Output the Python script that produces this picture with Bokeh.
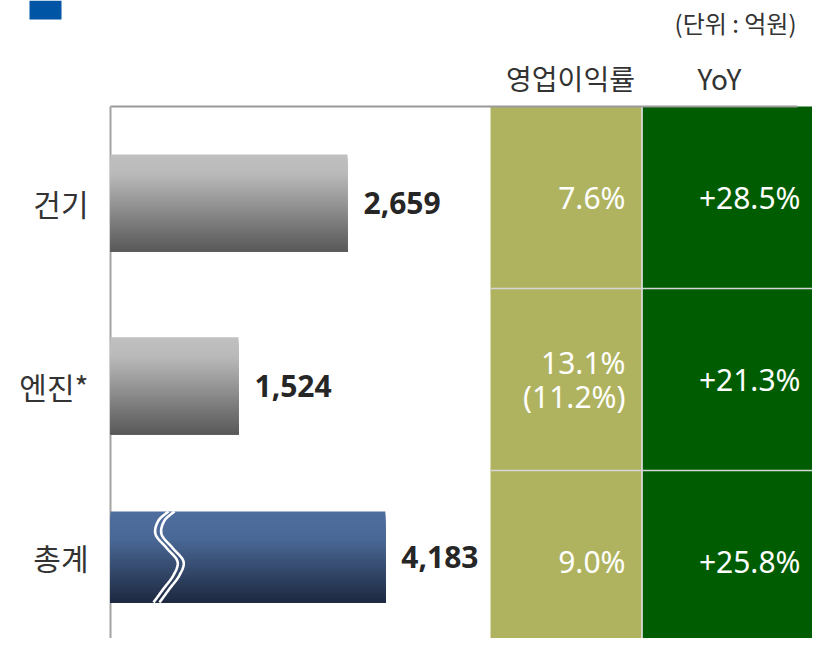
import numpy as np
from bokeh.plotting import figure
from bokeh.models import Range1d
from bokeh.core.properties import value
from bokeh.embed import file_html
from bokeh.resources import INLINE

# ---------------- data ----------------
categories = ["건기", "엔진*", "총계"]
sales = [2659, 1524, 4183]            # 억원
op_margin = [7.6, 13.1, 9.0]          # 영업이익률 %
op_margin_adj = [None, 11.2, None]    # (괄호) 값
yoy = [28.5, 21.3, 25.8]              # YoY %
col_headers = ["영업이익률", "YoY"]
unit_label = "(단위 : 억원)"

# ---------------- layout / style ----------------
W, H = 812, 638
axis_px = 110                 # x of the bar baseline
row_top = 106                 # y of the table top
row_h = 182                   # row height in px
px_per_val = 0.09604          # bar scale
base_val = 191.3              # truncated axis baseline
break_gap = 1130              # value removed by the axis break on the total bar
bar_dy = [0.03, 0.035, -0.025]   # bar offset within its row (row units)
bar_hs = [0.533, 0.533, 0.50]    # bar thickness (row units)

KR = value("Noto Sans CJK KR")
NUM = value("Noto Sans")

x_start = base_val + (0 - axis_px) / px_per_val
x_end = base_val + (W - axis_px) / px_per_val
y_start = (H - row_top) / row_h - 0.5
y_end = (0 - row_top) / row_h - 0.5

p = figure(width=W, height=H, x_range=Range1d(x_start, x_end),
           y_range=Range1d(y_start, y_end), output_backend="svg",
           toolbar_location=None, tools="", x_axis_type=None, y_axis_type=None,
           min_border=0, min_border_left=0, min_border_right=0,
           min_border_top=0, min_border_bottom=0)
p.outline_line_color = None
p.grid.visible = False
p.background_fill_color = "white"
p.border_fill_color = "white"
p.extra_x_ranges = {"px": Range1d(0, W)}
p.extra_y_ranges = {"py": Range1d(H, 0)}

rows = list(range(len(categories)))
bar_y = [r + d for r, d in zip(rows, bar_dy)]

# ---------------- table cells ----------------
p.quad(left=[490], right=[641], top=[-0.5], bottom=[2.6], x_range_name="px",
       fill_color="#AFB360", line_color=None)
p.quad(left=[642], right=[W + 5], top=[-0.5], bottom=[2.6], x_range_name="px",
       fill_color="#005C00", line_color=None)
for r in [0.5, 1.5]:
    p.line(x=[490, W + 5], y=[r, r], x_range_name="px", line_color="#d6d6d6", line_width=1.5)
p.line(x=[641.5, 641.5], y=[-0.5, 2.6], x_range_name="px", line_color="#d6d6d6", line_width=1.5)

# frame lines
p.line(x=[110, 797], y=[-0.5, -0.5], x_range_name="px", line_color="#9a9a9a", line_width=2)
p.line(x=[110, 110], y=[-0.5, 2.6], x_range_name="px", line_color="#a3a3a3", line_width=2)

# ---------------- gradient bars ----------------
def hex2rgb(h):
    h = h.lstrip("#")
    return np.array([int(h[i:i + 2], 16) for i in (0, 2, 4)], dtype=float)

def grad(stops, t):
    ts = [s[0] for s in stops]
    cs = np.array([hex2rgb(s[1]) for s in stops])
    rgb = [np.interp(t, ts, cs[:, k]) for k in range(3)]
    return "#%02x%02x%02x" % tuple(int(round(v)) for v in rgb)

gray_stops = [(0, "#c0c0c0"), (0.2, "#bababa"), (1, "#585858")]
blue_stops = [(0, "#4e6e9e"), (0.3, "#4a6896"), (1, "#1e2940")]
N = 40
ys, hs, rights, cols = [], [], [], []
drawn_end = [v if i < 2 else v - break_gap for i, v in enumerate(sales)]
for i in rows:
    stops = blue_stops if i == 2 else gray_stops
    bh = bar_hs[i]
    bottom = bar_y[i] + bh / 2
    for k in range(N):
        top = bar_y[i] - bh / 2 + k * bh / N
        ys.append((top + bottom) / 2)
        hs.append(bottom - top)
        rights.append(drawn_end[i])
        cols.append(grad(stops, (k + 0.5) / N))
p.hbar(y=ys, left=base_val, right=rights, height=hs,
       fill_color=cols, line_color=None)

# break symbol on total bar
def catmull(pts, n=20):
    pts = np.array(pts, dtype=float)
    P = np.vstack([pts[0], pts, pts[-1]])
    out = []
    for i in range(1, len(P) - 2):
        p0, p1, p2, p3 = P[i - 1], P[i], P[i + 1], P[i + 2]
        for t in np.linspace(0, 1, n, endpoint=False):
            t2, t3 = t * t, t * t * t
            out.append(0.5 * ((2 * p1) + (-p0 + p2) * t + (2 * p0 - 5 * p1 + 4 * p2 - p3) * t2
                              + (-p0 + 3 * p1 - 3 * p2 + p3) * t3))
    out.append(pts[-1])
    return np.array(out)

bx = 166
shape = [(2, 0.0), (-8, 0.1), (-11, 0.25), (0, 0.4), (11, 0.55), (7, 0.7), (-3, 0.85), (-13, 1.0)]
for off in (0, 6):
    pts = [(bx + off + dx, bar_y[2] - bar_hs[2] / 2 + f * bar_hs[2]) for dx, f in shape]
    c = catmull(pts)
    p.line(x=c[:, 0], y=c[:, 1], x_range_name="px", line_color="white", line_width=2.6)

# ---------------- texts ----------------
p.text(x=[88] * 3, y=bar_y, text=categories, x_range_name="px", text_font=KR,
       text_font_size="30px", text_color="#333333", text_align="right",
       text_baseline="middle")
p.text(x=drawn_end, y=bar_y, text=[f"{v:,}" for v in sales], x_offset=16,
       text_font=NUM, text_font_size="30px", text_font_style="bold",
       text_color="#262626", text_align="left", text_baseline="middle")

mtxt = [f"{m:.1f}%" + (f"\n({a:.1f}%)" if a is not None else "")
        for m, a in zip(op_margin, op_margin_adj)]
p.text(x=[625] * 3, y=rows, text=mtxt, x_range_name="px", text_font=NUM,
       text_font_size="30px", text_color="white", text_align="right",
       text_baseline="middle", text_line_height=0.85)
p.text(x=[800] * 3, y=rows, text=[f"+{v:.1f}%" for v in yoy], x_range_name="px",
       text_font=NUM, text_font_size="30px", text_color="white",
       text_align="right", text_baseline="middle")

p.text(x=[570, 719], y=[77, 77], text=col_headers, x_range_name="px", y_range_name="py",
       text_font=KR, text_font_size="28px", text_color="#333333",
       text_align="center", text_baseline="middle")
p.text(x=[796], y=[22], text=[unit_label], x_range_name="px", y_range_name="py",
       text_font=KR, text_font_size="24px", text_color="#333333",
       text_align="right", text_baseline="middle")

# title marker (title text itself lies above the visible area)
p.quad(left=[29], right=[61], top=[0], bottom=[19], x_range_name="px", y_range_name="py",
       fill_color="#0055A5", line_color=None)

open("out.html", "w").write(file_html(p, INLINE))
